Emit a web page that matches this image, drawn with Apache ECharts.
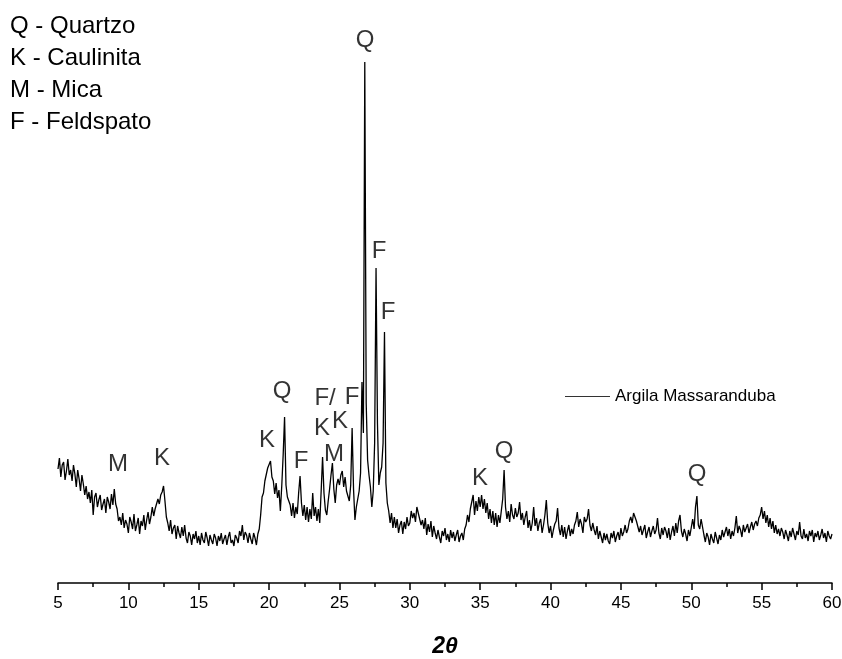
<!DOCTYPE html>
<html>
<head>
<meta charset="utf-8">
<title>Argila Massaranduba - DRX</title>
<script src="https://cdn.jsdelivr.net/npm/echarts@6/dist/echarts.min.js"></script>
<style>
  html, body { margin: 0; padding: 0; background: #fff; }
  #chart { width: 842px; height: 659px; }
</style>
</head>
<body>
<div id="chart"></div>
<script>
// Diffractogram sampling: 2θ from 5° to 60° in 0.1° steps
const TWO_THETA_START = 5;
const TWO_THETA_STEP = 0.1;

// Measured intensity (a.u.), one row per degree (x.0 ... x.9)
const intensity = [
  114,125,106,118,121,103,112,124,108,113, // 5
  102,118,109,96,113,104,92,108,99,88,     // 6
  97,84,91,80,93,68,86,90,76,83,           // 7
  88,73,79,84,70,86,81,74,89,78,           // 8
  94,79,74,62,66,58,70,55,63,59,           // 9
  50,66,61,54,69,52,58,65,49,62,           // 10
  57,68,53,63,71,59,66,76,67,74,           // 11
  73,84,79,88,91,97,82,66,60,52,           // 12
  63,49,55,58,44,57,50,45,56,47,           // 13
  58,45,40,51,47,38,49,44,52,40,           // 14
  47,38,50,43,40,51,45,37,48,43,           // 15
  39,49,45,37,47,42,50,39,44,48,           // 16
  38,46,51,40,43,37,48,45,40,52,           // 17
  47,58,43,51,48,40,50,44,39,50,           // 18
  45,38,49,54,68,86,90,102,104,115,        // 19
  114,122,106,102,89,100,85,93,72,97,      // 20
  128,166,98,86,88,78,67,80,65,76,         // 21
  69,90,107,80,67,78,63,76,61,74,          // 22
  64,90,67,76,62,74,60,92,126,90,          // 23
  73,68,82,94,108,120,94,80,98,104,        // 24
  98,108,112,96,106,92,92,82,98,155,       // 25
  94,63,76,84,92,110,201,150,521,180,      // 26
  123,108,96,76,92,140,315,160,98,110,     // 27
  116,140,251,100,80,72,60,70,55,66,       // 28
  55,64,50,58,62,49,61,54,66,57,           // 29
  60,72,65,70,61,76,77,64,58,63,           // 30
  54,65,48,59,51,62,46,57,50,44,           // 31
  53,46,40,52,47,55,43,49,41,53,           // 32
  45,51,42,48,53,41,47,50,43,54,           // 33
  58,68,61,74,73,88,68,82,72,86,           // 34
  76,88,74,84,70,80,64,74,60,72,           // 35
  58,70,56,68,60,72,84,113,76,64,          // 36
  72,61,79,68,64,75,66,70,81,63,           // 37
  70,58,66,72,55,63,52,60,76,57,           // 38
  65,52,60,64,50,58,68,83,60,50,           // 39
  57,45,53,59,62,75,55,48,58,46,           // 40
  56,44,52,58,47,54,49,58,62,71,           // 41
  56,64,59,50,66,61,64,74,58,52,           // 42
  60,53,48,57,44,52,46,40,50,43,           // 43
  49,42,39,50,45,52,41,47,51,43,           // 44
  55,47,51,58,50,54,62,66,60,70,           // 45
  71,62,60,51,57,48,53,58,45,51,           // 46
  56,46,52,57,49,53,65,50,44,55,           // 47
  48,56,52,45,55,43,51,57,47,60,           // 48
  50,62,68,52,46,54,49,42,53,47,           // 49
  45,64,54,76,87,58,54,64,63,48,           // 50
  41,50,46,38,49,44,40,51,45,39,           // 51
  48,43,53,46,51,56,47,54,44,52,           // 52
  47,55,67,50,57,53,46,58,51,55,           // 53
  59,50,56,61,53,59,62,57,65,68,           // 54
  76,64,72,60,68,56,65,54,62,50,           // 55
  58,49,54,47,55,51,44,53,48,42,           // 56
  52,46,55,49,43,52,48,61,47,44,           // 57
  54,45,49,42,52,47,53,41,50,46,           // 58
  52,43,48,54,45,50,41,52,47,44,           // 59
  49                                       // 60
];

// Phase identification letters: [letter, 2θ, intensity at which the letter sits]
const peakLabels = [
  ['M', 9.26, 119],
  ['K', 12.39, 125],
  ['K', 19.85, 143],
  ['Q', 20.92, 192],
  ['F', 22.27, 122],
  ['K', 23.76, 155],
  ['F/', 23.98, 185],
  ['M', 24.62, 129],
  ['K', 25.04, 162],
  ['F', 25.9, 186],
  ['Q', 26.82, 543],
  ['F', 27.81, 332],
  ['F', 28.45, 271],
  ['K', 34.99, 105],
  ['Q', 36.7, 132],
  ['Q', 50.42, 109]
];

// Phase key
const phaseKey = ['Q - Quartzo', 'K - Caulinita', 'M - Mica', 'F - Feldspato'];

const xTicks = { min: 5, max: 60, interval: 5 };
const seriesName = 'Argila Massaranduba';

const pattern = intensity.map((v, i) => [
  +(TWO_THETA_START + i * TWO_THETA_STEP).toFixed(2), v
]);

const FONT = '"Liberation Sans", Arial, Helvetica, sans-serif';
const NARROW = '"Liberation Sans Narrow", "Arial Narrow", "Liberation Sans", Arial, sans-serif';

const chart = echarts.init(document.getElementById('chart'), null, { renderer: 'canvas' });

chart.setOption({
  animation: false,
  backgroundColor: '#ffffff',
  textStyle: { fontFamily: FONT, color: '#000' },
  grid: { left: 58, right: 10, top: 33, bottom: 76, outerBoundsMode: 'none' },
  legend: {
    data: [seriesName],
    left: 560,
    top: 383,
    icon: 'rect',
    itemWidth: 45,
    itemHeight: 1,
    itemGap: 5,
    textStyle: { fontSize: 17, color: '#000', fontFamily: FONT },
    itemStyle: { color: '#333' }
  },
  graphic: [{
    type: 'text',
    left: 10,
    top: 10,
    style: {
      text: phaseKey.join('\n'),
      font: '24px ' + FONT,
      lineHeight: 32,
      fill: '#000'
    }
  }],
  xAxis: {
    type: 'value',
    min: xTicks.min,
    max: xTicks.max,
    interval: xTicks.interval,
    name: '2θ',
    nameLocation: 'middle',
    nameGap: 52,
    nameTextStyle: { fontSize: 23, fontWeight: 'bold', fontStyle: 'italic', color: '#000', fontFamily: FONT },
    axisLine: { show: true, onZero: false, lineStyle: { color: '#000', width: 1.5 } },
    axisTick: { show: true, inside: false, length: 7, lineStyle: { color: '#000', width: 1.5 } },
    minorTick: { show: true, splitNumber: 2, length: 4, lineStyle: { color: '#000', width: 1.5 } },
    axisLabel: { fontSize: 17, color: '#000', margin: 12, fontFamily: NARROW },
    splitLine: { show: false }
  },
  yAxis: {
    type: 'value',
    min: 0,
    max: 550,
    show: false,
    splitLine: { show: false }
  },
  series: [
    {
      name: seriesName,
      type: 'line',
      data: pattern,
      showSymbol: false,
      symbol: 'none',
      sampling: null,
      lineStyle: { color: '#000', width: 1.3 },
      itemStyle: { color: '#333' },
      z: 2
    },
    {
      name: 'fases',
      type: 'scatter',
      silent: true,
      data: peakLabels.map(p => [p[1], p[2], p[0]]),
      symbolSize: 1,
      itemStyle: { color: 'rgba(0,0,0,0)' },
      label: {
        show: true,
        position: 'inside',
        formatter: p => p.value[2],
        fontSize: 24,
        color: '#000',
        fontFamily: FONT
      },
      z: 3
    }
  ]
});
</script>
</body>
</html>
